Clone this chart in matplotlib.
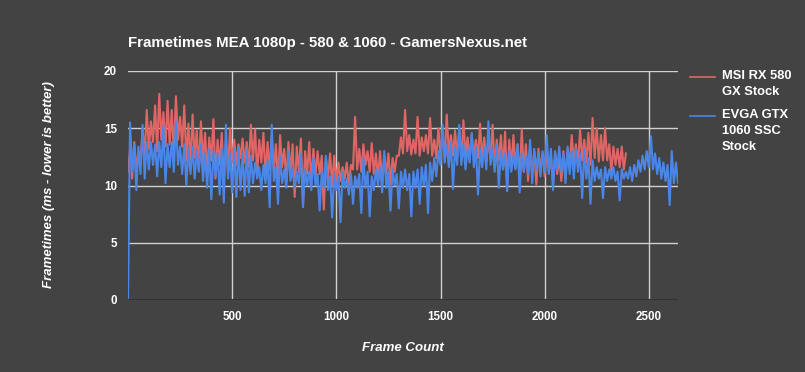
import numpy as np
import matplotlib
matplotlib.use("Agg")
import matplotlib.pyplot as plt
from matplotlib.lines import Line2D

plt.rcParams['font.family'] = ['Liberation Sans', 'DejaVu Sans']

# frametimes (ms), one reading every 10 frames (one row = 100 frames)
FRAME_STEP = 10
rx580 = [
    11.2, 13.2, 10.6, 13.8, 11.4, 13.0, 12.0, 15.0, 12.6, 16.6,
    13.2, 15.6, 13.8, 17.0, 13.0, 18.0, 14.0, 16.4, 13.4, 17.4,
    13.6, 16.6, 12.8, 17.8, 14.0, 16.0, 13.4, 17.0, 12.2, 15.4,
    11.8, 16.2, 12.4, 14.8, 11.4, 15.6, 12.0, 14.6, 11.0, 14.2,
    12.2, 15.8, 10.6, 14.0, 11.8, 14.6, 10.4, 13.8, 11.2, 15.0,
    12.0, 14.0, 11.8, 13.6, 12.4, 14.1, 12.0, 13.8, 11.6, 15.3,
    12.2, 14.9, 11.0, 14.0, 12.0, 14.6, 10.8, 13.8, 11.4, 14.4,
    11.2, 13.6, 10.2, 14.4, 11.6, 13.2, 10.4, 13.8, 11.0, 13.6,
    9.0, 13.4, 11.2, 14.1, 8.4, 13.0, 11.0, 13.8, 10.2, 13.2,
    10.8, 13.0, 11.0, 12.6, 7.9, 12.4, 10.6, 12.8, 10.0, 12.6,
    10.2, 12.0, 10.4, 11.6, 10.6, 12.0, 10.0, 11.8, 11.4, 16.0,
    11.4, 13.2, 11.2, 13.6, 11.8, 13.0, 11.2, 13.7, 11.0, 12.8,
    10.6, 13.0, 10.2, 12.6, 11.0, 12.8, 10.1, 12.4, 11.2, 12.6,
    12.6, 14.2, 12.8, 16.6, 13.0, 14.4, 12.7, 14.0, 12.8, 16.0,
    12.6, 14.2, 13.0, 14.4, 12.8, 15.9, 12.6, 14.0, 12.4, 15.0,
    12.6, 14.6, 12.4, 16.2, 12.8, 14.4, 12.6, 14.8, 12.4, 15.0,
    12.2, 15.7, 12.6, 14.2, 12.3, 14.4, 12.6, 14.0, 12.4, 15.4,
    12.2, 14.2, 12.0, 14.0, 12.4, 15.3, 11.6, 14.0, 12.2, 14.4,
    11.4, 14.7, 10.0, 14.0, 11.6, 14.4, 11.5, 13.6, 10.4, 14.9,
    11.2, 13.6, 10.4, 13.3, 11.0, 13.0, 10.1, 13.2, 11.4, 12.8,
    10.8, 13.0, 11.2, 12.6, 10.1, 12.8, 11.0, 12.4, 10.4, 13.0,
    10.6, 13.2, 11.8, 14.4, 12.0, 13.6, 11.8, 14.9, 12.2, 14.0,
    12.0, 14.6, 11.8, 15.9, 12.4, 15.0, 12.1, 14.4, 12.2, 15.0,
    12.2, 13.6, 11.2, 13.4, 11.8, 13.2, 11.6, 13.4, 11.4, 12.8,
]
gtx1060 = [
    0.0, 15.5, 11.2, 13.6, 9.6, 13.4, 11.0, 15.3, 10.6, 13.8,
    11.4, 13.8, 11.8, 13.6, 10.8, 13.8, 11.6, 15.2, 10.2, 13.6,
    11.6, 13.8, 11.2, 15.6, 11.8, 13.4, 11.0, 13.6, 10.0, 13.2,
    11.0, 13.4, 10.6, 13.0, 11.2, 13.6, 10.4, 12.8, 9.8, 13.2,
    8.8, 13.0, 10.8, 12.8, 9.2, 13.2, 8.5, 15.3, 10.6, 12.8,
    9.4, 13.2, 9.0, 13.4, 9.6, 12.8, 9.1, 13.2, 9.4, 12.6,
    10.2, 12.0, 10.6, 11.6, 9.6, 11.8, 10.2, 12.2, 8.1, 15.3,
    10.4, 11.6, 8.4, 12.6, 10.2, 11.4, 9.8, 13.0, 10.4, 11.4,
    9.8, 11.2, 10.2, 12.8, 8.1, 11.4, 10.0, 11.2, 9.6, 12.4,
    10.0, 11.0, 7.8, 11.2, 9.8, 12.6, 9.6, 10.8, 7.2, 11.0,
    9.6, 10.8, 6.8, 11.2, 9.8, 10.6, 9.2, 11.0, 8.4, 10.8,
    9.8, 11.0, 7.6, 12.4, 9.8, 11.2, 7.3, 10.8, 9.6, 11.4,
    10.0, 11.6, 9.4, 13.0, 9.8, 11.2, 7.8, 11.4, 10.0, 11.0,
    8.0, 11.2, 9.8, 11.4, 9.6, 11.0, 7.3, 11.2, 9.8, 11.4,
    8.4, 11.6, 10.0, 11.8, 7.6, 12.0, 10.4, 12.4, 10.8, 13.0,
    11.8, 15.3, 12.0, 13.6, 11.6, 13.8, 9.7, 13.4, 11.8, 15.3,
    11.8, 13.6, 11.4, 13.2, 12.0, 14.6, 11.6, 13.4, 9.2, 13.2,
    11.6, 13.4, 11.4, 15.6, 11.8, 13.2, 11.2, 13.6, 9.8, 13.0,
    11.4, 12.8, 9.5, 13.0, 11.2, 12.6, 11.4, 13.6, 9.4, 12.8,
    11.2, 12.6, 11.0, 14.0, 10.2, 13.2, 11.4, 12.8, 10.8, 13.0,
    11.2, 14.4, 11.0, 13.2, 9.6, 13.0, 11.4, 13.4, 11.2, 12.8,
    10.2, 13.4, 11.0, 13.0, 10.6, 13.2, 11.2, 12.8, 8.9, 13.2,
    10.6, 12.4, 8.4, 12.2, 10.4, 11.6, 10.6, 11.4, 8.9, 11.6,
    10.4, 11.4, 10.6, 11.6, 10.4, 11.2, 8.7, 11.4, 10.6, 11.2,
    10.6, 11.6, 10.4, 11.8, 10.8, 12.2, 11.2, 12.6, 11.4, 13.0,
    11.6, 14.3, 11.4, 12.8, 11.0, 12.4, 10.6, 12.0, 10.4, 11.8,
    8.3, 13.0, 10.2, 12.0, 10.2,
]
labels = ["MSI RX 580\nGX Stock", "EVGA GTX\n1060 SSC\nStock"]
colors = ["#e06666", "#4a86e8"]
x_ticks = [500, 1000, 1500, 2000, 2500]
y_ticks = [0, 5, 10, 15, 20]

bg = "#434343"
fig = plt.figure(figsize=(8.05, 3.72), dpi=100, facecolor=bg)
ax = fig.add_axes([128 / 805, 1 - 300 / 372, 550 / 805, 229 / 372])
ax.set_facecolor(bg)

for series, c in zip([rx580, gtx1060], colors):
    frames = np.arange(len(series)) * FRAME_STEP
    ax.plot(frames, series, color=c, lw=1.5)

ax.set_xlim(0, 2640)
ax.set_ylim(0, 20)
ax.set_xticks(x_ticks)
ax.set_yticks(y_ticks)
ax.grid(True, color="#d0d0d0", lw=1.0)
ax.set_axisbelow(True)
ax.axhline(0, color="#333333", lw=1.5, zorder=3)
for s in ax.spines.values():
    s.set_visible(False)
ax.tick_params(length=0, colors="white", labelsize=8.4, pad=8)
for t in ax.get_xticklabels() + ax.get_yticklabels():
    t.set_fontweight("bold")

fig.text(128 / 805, 1 - 43 / 372, "Frametimes MEA 1080p - 580 & 1060 - GamersNexus.net",
         color="white", fontsize=10.8, fontweight="bold", va="center", ha="left")
fig.text(403 / 805, 1 - 348 / 372, "Frame Count", color="white", fontsize=9.5,
         fontweight="bold", style="italic", ha="center", va="center")
fig.text(49 / 805, 1 - 185 / 372, "Frametimes (ms - lower is better)", color="white",
         fontsize=9.5, fontweight="bold", style="italic", ha="center", va="center",
         rotation=90)

# legend
for lab, c, ymid in zip(labels, colors, [77, 116]):
    fig.add_artist(Line2D([690 / 805, 715 / 805], [1 - ymid / 372] * 2,
                          color=c, lw=1.2, transform=fig.transFigure))
    fig.text(722 / 805, 1 - (ymid - 7) / 372, lab, color="white", fontsize=9.3,
             fontweight="bold", ha="left", va="top", linespacing=1.45)

fig.savefig("out.png", dpi=100, facecolor=bg)
